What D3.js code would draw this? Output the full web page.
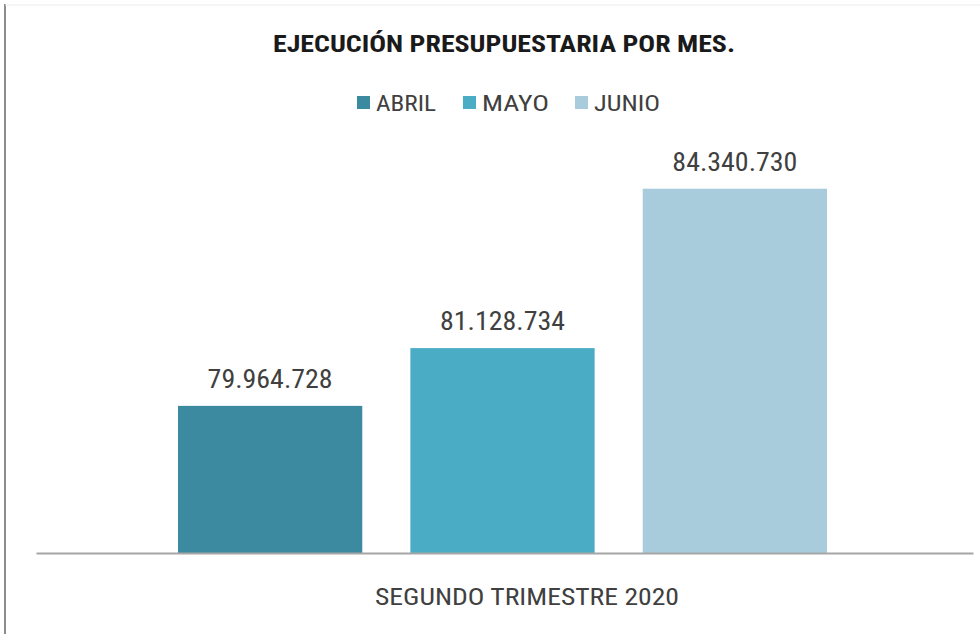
<!DOCTYPE html>
<html><head><meta charset="utf-8">
<script src="https://cdn.jsdelivr.net/npm/d3@7"></script>
<style>body{margin:0;background:#fff}svg{display:block}</style>
</head><body><svg id="c" width="980" height="634"></svg>
<script>
const title = "EJECUCIÓN PRESUPUESTARIA POR MES.";
const category = "SEGUNDO TRIMESTRE 2020";
const months = ["ABRIL", "MAYO", "JUNIO"];
const values = [79964728, 81128734, 84340730];
const colors = ["#3B8AA0", "#4BACC6", "#A8CCDC"];
const yDomain = [77000000, 85000000];

const svg = d3.select("#c");
const font = "'Liberation Sans Narrow', 'Roboto Condensed', Roboto, 'Open Sans', sans-serif";

// frame
svg.append("line").attr("x1",5).attr("x2",5).attr("y1",4).attr("y2",634).attr("stroke","#8c8c8c").attr("stroke-width",2);
svg.append("line").attr("x1",5).attr("x2",980).attr("y1",5).attr("y2",5).attr("stroke","#ececec").attr("stroke-width",1);

const x = d3.scaleBand().domain(months).range([178, 827]).paddingInner(0.207).paddingOuter(0);
const y = d3.scaleLinear().domain(yDomain).range([553, 156]);
const fmt = v => d3.format(",")(v).replace(/,/g, ".");

// bars
svg.selectAll("rect.bar").data(months).join("rect")
  .attr("class","bar")
  .attr("x", d => x(d)).attr("width", x.bandwidth())
  .attr("y", (d,i) => y(values[i])).attr("height", (d,i) => y(yDomain[0]) - y(values[i]))
  .attr("fill", (d,i) => colors[i]);

// baseline axis
const axis = svg.append("g").attr("transform","translate(0,553)")
  .call(d3.axisBottom(d3.scaleBand().domain([category]).range([36, 973])).tickSize(0).tickFormat(""));
axis.select(".domain").attr("stroke","#a6a6a6").attr("stroke-width",2);
axis.selectAll(".tick").remove();

svg.append("text").attr("x", 527).attr("y", 605).attr("text-anchor","middle")
  .attr("font-family", font).attr("font-size", 23.5).attr("fill","#404040")
  .attr("textLength", 304).attr("lengthAdjust","spacingAndGlyphs").text(category);

// data labels
svg.selectAll("text.lbl").data(months).join("text")
  .attr("class","lbl")
  .attr("x", d => x(d) + x.bandwidth()/2)
  .attr("y", (d,i) => y(values[i]) - 18)
  .attr("text-anchor","middle").attr("font-family", font).attr("font-size", 25).attr("fill","#404040")
  .attr("textLength", 125).attr("lengthAdjust","spacingAndGlyphs")
  .text((d,i) => fmt(values[i]));

// title
svg.append("text").attr("x", 504).attr("y", 52).attr("text-anchor","middle")
  .attr("font-family", font).attr("font-weight","bold").attr("font-size", 24).attr("fill","#1a1a1a")
  .attr("textLength", 462).attr("lengthAdjust","spacingAndGlyphs").text(title);

// legend
const legX = [357, 463, 575];
const legW = [60, 67, 66];
const leg = svg.selectAll("g.leg").data(months).join("g").attr("class","leg")
  .attr("transform", (d,i) => `translate(${legX[i]},96)`);
leg.append("rect").attr("width",13).attr("height",13).attr("fill",(d,i)=>colors[i]);
leg.append("text").attr("x",19).attr("y",15).attr("font-family",font).attr("font-size",22).attr("fill","#404040")
  .attr("textLength",(d,i)=>legW[i]).attr("lengthAdjust","spacingAndGlyphs").text(d=>d);
</script></body></html>
